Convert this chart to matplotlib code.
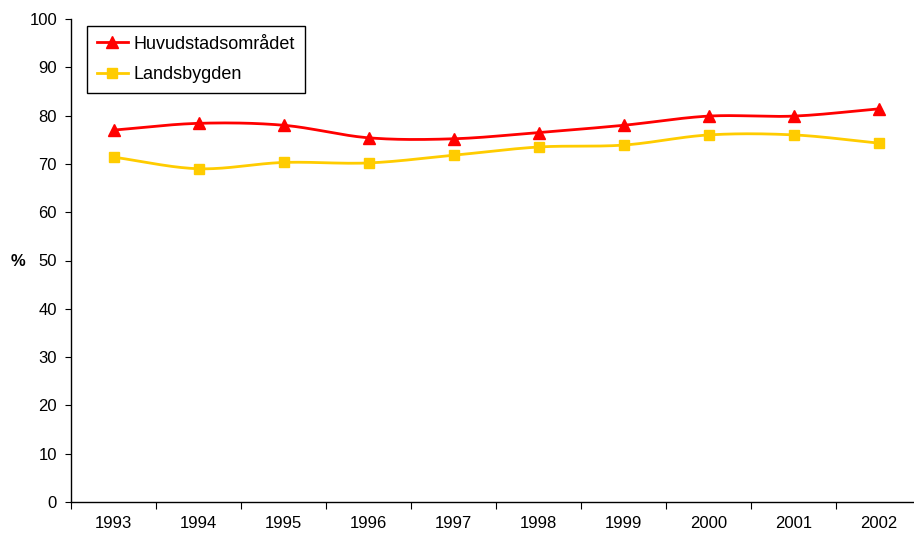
import numpy as np
import matplotlib.pyplot as plt
from matplotlib.lines import Line2D
from matplotlib.ticker import FixedLocator, NullFormatter

plt.rcParams['font.family'] = ['Liberation Sans', 'DejaVu Sans']

years = ['1993', '1994', '1995', '1996', '1997', '1998', '1999', '2000', '2001', '2002']
huvudstad = [77.0, 78.4, 78.0, 75.4, 75.2, 76.5, 78.0, 79.9, 79.9, 81.4]
landsbygd = [71.4, 69.0, 70.3, 70.2, 71.8, 73.5, 73.9, 76.0, 76.0, 74.3]
yticks = list(range(0, 101, 10))


def smooth(x, y, n=30):
    # catmull-rom through the points, roughly like excel's smoothed line
    x = np.asarray(x, float)
    y = np.asarray(y, float)
    px = np.concatenate([[2 * x[0] - x[1]], x, [2 * x[-1] - x[-2]]])
    py = np.concatenate([[2 * y[0] - y[1]], y, [2 * y[-1] - y[-2]]])
    xs, ys = [], []
    t = np.linspace(0, 1, n)
    for i in range(1, len(px) - 2):
        for p, out in ((px, xs), (py, ys)):
            p0, p1, p2, p3 = p[i - 1], p[i], p[i + 1], p[i + 2]
            out.extend(0.5 * (2 * p1 + (-p0 + p2) * t
                              + (2 * p0 - 5 * p1 + 4 * p2 - p3) * t ** 2
                              + (-p0 + 3 * p1 - 3 * p2 + p3) * t ** 3))
    return xs, ys


fig = plt.figure(figsize=(9.14, 5.33), dpi=100)
ax = fig.add_axes([71 / 914, (533 - 502) / 533, 850.5 / 914, 483 / 533])

x = np.arange(len(years))
red = '#ff0000'
yellow = '#ffcc00'

sx, sy = smooth(x, landsbygd)
ax.plot(sx, sy, color=yellow, lw=2, zorder=3)
ax.plot(x, landsbygd, 's', color=yellow, ms=7.5, zorder=4)
sx, sy = smooth(x, huvudstad)
ax.plot(sx, sy, color=red, lw=2, zorder=5)
ax.plot(x, huvudstad, '^', color=red, ms=8, zorder=6)

ax.set_xlim(-0.5, len(years) - 0.5)
ax.set_ylim(0, 100)
ax.set_yticks(yticks)
ax.tick_params(axis='y', direction='out', length=4, labelsize=12, pad=6)

ax.xaxis.set_major_locator(FixedLocator(np.arange(-0.5, len(years), 1)))
ax.xaxis.set_major_formatter(NullFormatter())
ax.xaxis.set_minor_locator(FixedLocator(x))
ax.set_xticklabels(years, minor=True)
ax.tick_params(axis='x', which='major', direction='out', length=5)
ax.tick_params(axis='x', which='minor', length=0, labelsize=12, pad=10)

for s in ('top', 'right'):
    ax.spines[s].set_visible(False)
ax.spines['left'].set_linewidth(1)
ax.spines['bottom'].set_linewidth(1)

fig.text(18 / 914, 1 - 262 / 533, '%', fontsize=12, fontweight='bold',
         ha='center', va='center')

handles = [Line2D([], [], color=red, lw=2, marker='^', ms=8),
           Line2D([], [], color=yellow, lw=2, marker='s', ms=7.5)]
leg = ax.legend(handles, ['Huvudstadsområdet', 'Landsbygden'],
                loc='upper left', bbox_to_anchor=(0.019, 0.986),
                fontsize=13, frameon=True, fancybox=False, framealpha=1,
                edgecolor='black', handlelength=1.7, handletextpad=0.3,
                borderpad=0.55, labelspacing=0.75, borderaxespad=0)
leg.get_frame().set_linewidth(1)

fig.savefig('out.png', dpi=100)
